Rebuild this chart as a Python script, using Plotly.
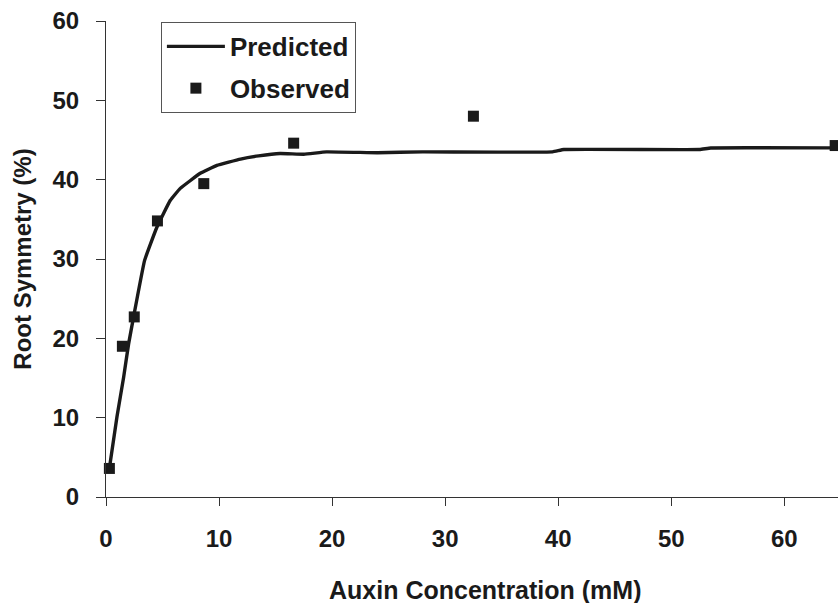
import plotly.graph_objects as go

obs_x = [0.3, 1.45, 2.5, 4.55, 8.65, 16.6, 32.5, 64.5]
obs_y = [3.6, 19.0, 22.7, 34.8, 39.5, 44.6, 48.0, 44.3]

# Predicted curve
pred_x = [0.32, 0.97, 1.56, 2.0, 2.44, 3.41, 4.5, 5.69, 6.57, 8.34, 9.81, 11.9,
          13.5, 15.4, 17.5, 19.5, 24.0, 28.0, 39.5, 40.5, 52.5, 53.5, 65.0]
pred_y = [3.8, 10.1, 15.1, 19.3, 22.7, 29.8, 34.0, 37.4, 38.9, 40.8, 41.8, 42.6,
          43.0, 43.3, 43.2, 43.5, 43.4, 43.5, 43.5, 43.8, 43.8, 44.0, 44.0]

x_ticks = [0, 10, 20, 30, 40, 50, 60]
y_ticks = [0, 10, 20, 30, 40, 50, 60]

FONT = "Liberation Sans, Arial, sans-serif"
INK = "#1a1a1a"

fig = go.Figure()
fig.add_trace(go.Scatter(
    x=pred_x, y=pred_y, mode="lines", name="<b>Predicted</b>",
    line=dict(color=INK, width=3.4, shape="spline", smoothing=0.3),
    legendgroup="a",
))
fig.add_trace(go.Scatter(
    x=obs_x, y=obs_y, mode="markers", name="<b>Observed</b>",
    marker=dict(symbol="square", size=11, color=INK),
    cliponaxis=False, legendgroup="b",
))

fig.update_layout(
    width=838, height=603,
    margin=dict(l=106, r=0, t=21, b=106),
    paper_bgcolor="white", plot_bgcolor="white",
    font=dict(family=FONT, size=25, color=INK),
    showlegend=True,
    legend=dict(
        x=0.075, y=0.998, xanchor="left", yanchor="top",
        bordercolor="#555555", borderwidth=1, bgcolor="white",
        font=dict(family=FONT, size=26, color=INK),
        tracegroupgap=5, itemwidth=58,
    ),
    xaxis=dict(
        range=[0, 64.75], tickvals=x_ticks,
        ticktext=[f"<b>{v}</b>" for v in x_ticks],
        tickfont=dict(family=FONT, size=24, color=INK),
        showline=True, linecolor="#333333", linewidth=1,
        ticks="outside", ticklen=8, tickcolor="#333333",
        showgrid=False, zeroline=False,
        ticklabelstandoff=12,
    ),
    yaxis=dict(
        range=[0, 60], tickvals=y_ticks,
        ticktext=[f"<b>{v}</b>" for v in y_ticks],
        tickfont=dict(family=FONT, size=24, color=INK),
        showline=True, linecolor="#333333", linewidth=1,
        ticks="outside", ticklen=9, tickcolor="#333333",
        showgrid=False, zeroline=False,
        ticklabelstandoff=12,
        title=dict(text="<b>Root Symmetry (%)</b>", font=dict(size=24), standoff=14),
    ),
    annotations=[dict(
        text="<b>Auxin Concentration (mM)</b>", xref="paper", yref="paper",
        x=0.519, y=-0.195, xanchor="center", yanchor="middle", showarrow=False,
        font=dict(family=FONT, size=25, color=INK),
    )],
)

fig.write_html("out.html")
